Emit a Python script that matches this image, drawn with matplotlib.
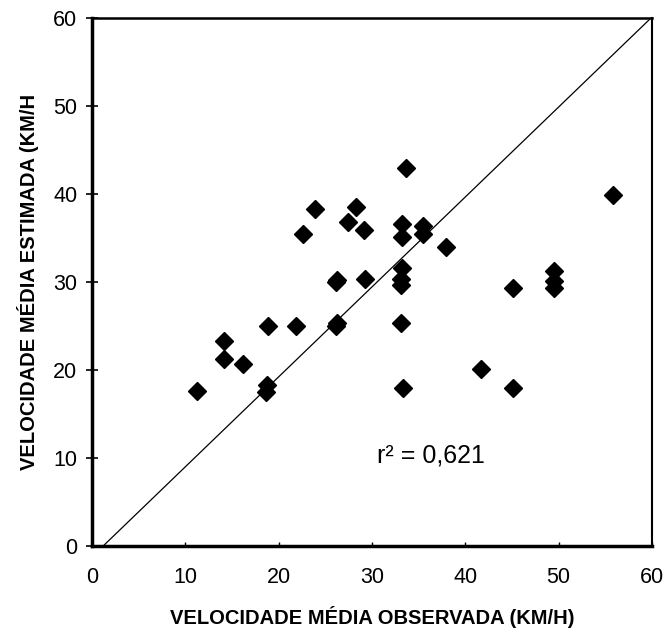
import matplotlib.pyplot as plt
import numpy as np

plt.rcParams['font.family'] = ['Liberation Sans', 'DejaVu Sans']

# observed vs. estimated mean speed (km/h)
observada = [11.2, 14.1, 14.1, 16.2, 18.9, 21.9, 18.7, 18.6, 22.6, 23.9,
             26.1, 26.2, 26.1, 26.2, 27.4, 28.3, 29.1, 29.2, 33.2, 33.2,
             33.6, 35.5, 35.5, 37.9, 33.2, 33.1, 33.1, 33.1, 33.3, 41.7,
             45.1, 45.1, 49.5, 49.5, 49.5, 55.8]
estimada = [17.6, 23.3, 21.3, 20.7, 25.0, 25.0, 18.3, 17.5, 35.5, 38.3,
            30.0, 30.2, 25.0, 25.3, 36.8, 38.5, 35.9, 30.3, 36.6, 35.1,
            42.9, 36.4, 35.5, 34.0, 31.6, 30.3, 29.7, 25.3, 17.9, 20.1,
            29.3, 17.9, 31.2, 30.1, 29.3, 39.9]
linha_x = [1.2, 59.9]
linha_y = [0, 60]
ticks = [0, 10, 20, 30, 40, 50, 60]

fig = plt.figure(figsize=(6.68, 6.35), dpi=100)
ax = fig.add_axes([0.1377, 0.1402, 0.976 - 0.1377, 0.9717 - 0.1402])

ax.plot(linha_x, linha_y, color='black', linewidth=0.9)
ax.plot(observada, estimada, linestyle='none', marker='D', markersize=9.5,
        color='black', zorder=3)

ax.text(30.5, 10.3, 'r² = 0,621', fontsize=18, va='center', ha='left')

ax.set_xlim(0, 60)
ax.set_ylim(0, 60)
ax.set_xticks(ticks)
ax.set_yticks(ticks)
ax.tick_params(axis='y', direction='inout', length=9, width=1.2, pad=6,
               labelsize=15.5)
ax.tick_params(axis='x', direction='in', length=3, width=1.0, pad=15,
               labelsize=15.5)

ax.spines['left'].set_linewidth(2.5)
ax.spines['bottom'].set_linewidth(2.5)
ax.spines['top'].set_linewidth(1.8)
ax.spines['right'].set_linewidth(1.5)

ax.set_xlabel('VELOCIDADE MÉDIA OBSERVADA (KM/H)', fontsize=14.5,
              fontweight='bold', labelpad=13)
ax.set_ylabel('VELOCIDADE MÉDIA ESTIMADA (KM/H', fontsize=14.5,
              fontweight='bold', labelpad=10)

fig.savefig('out.png', dpi=100)
